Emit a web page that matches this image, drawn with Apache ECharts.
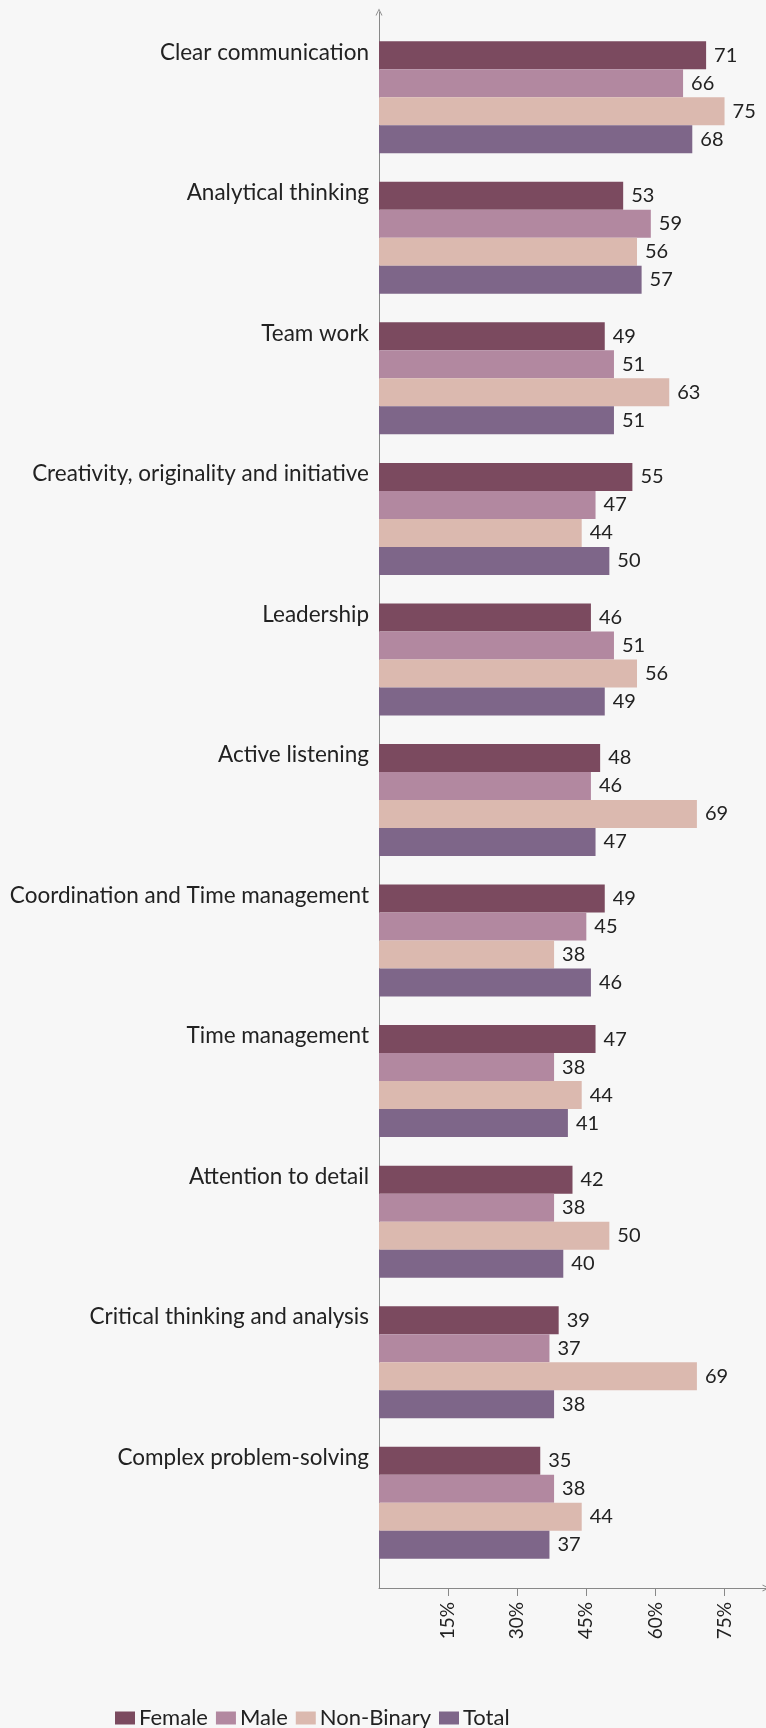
<!DOCTYPE html>
<html lang="en">
<head>
<meta charset="UTF-8">
<title>Skills by gender</title>
<script src="https://cdn.jsdelivr.net/npm/echarts@6/dist/echarts.min.js"></script>
<style>
    html, body { margin: 0; padding: 0; background: #f7f7f7; }
    #chart { width: 766px; height: 1728px; }
</style>
</head>
<body>
<div id="chart"></div>
<script>
    // data (percent)
    var skills = [
        'Clear communication',
        'Analytical thinking',
        'Team work',
        'Creativity, originality and initiative',
        'Leadership',
        'Active listening',
        'Coordination and Time management',
        'Time management',
        'Attention to detail',
        'Critical thinking and analysis',
        'Complex problem-solving'
    ];
    var female    = [71, 53, 49, 55, 46, 48, 49, 47, 42, 39, 35];
    var male      = [66, 59, 51, 47, 51, 46, 45, 38, 38, 37, 38];
    var nonBinary = [75, 56, 63, 44, 56, 69, 38, 44, 50, 69, 44];
    var total     = [68, 57, 51, 50, 49, 47, 46, 41, 40, 38, 37];

    var seriesNames = ['Female', 'Male', 'Non-Binary', 'Total'];
    var seriesData = [female, male, nonBinary, total];
    var colors = ['#7b4a5f', '#b288a0', '#dbb9af', '#7e6689'];
    var xTicks = [15, 30, 45, 60, 75];
    var xMax = 84;

    var font = 'Lato, "Noto Sans", sans-serif';
    var textColor = '#222';
    var axisColor = '#888';
    // thin open arrow head for the axis ends
    var chevron = 'path://M0,10 L5,0 L10,10 L8.6,10 L5,2.6 L1.4,10 Z';

    var chart = echarts.init(document.getElementById('chart'));

    var series = seriesNames.map(function (name, i) {
        return {
            name: name,
            type: 'bar',
            xAxisIndex: 0,
            yAxisIndex: 0,
            data: seriesData[i],
            itemStyle: { color: colors[i] },
            barGap: '0%',
            barCategoryGap: '20.3%',
            label: {
                show: true,
                position: 'right',
                distance: 8,
                color: textColor,
                fontFamily: font,
                fontSize: 20
            }
        };
    });

    var option = {
        backgroundColor: '#f7f7f7',
        animation: false,
        textStyle: { fontFamily: font },
        legend: {
            data: seriesNames,
            left: 110,
            top: 1702,
            icon: 'rect',
            itemWidth: 20,
            itemHeight: 13,
            itemGap: 8,
            textStyle: { color: textColor, fontSize: 22, fontFamily: font, padding: [0, 0, 0, -1] }
        },
        // grid 0 holds the bars, grid 1 only draws the two arrowed axis lines
        grid: [
            { left: 379, right: 0, top: 27, height: 1546, outerBoundsMode: 'none' },
            { left: 379, right: 0, top: 12, bottom: 140, outerBoundsMode: 'none' }
        ],
        xAxis: [
            {
                type: 'value', gridIndex: 0, min: 0, max: xMax,
                show: false
            },
            {
                type: 'value', gridIndex: 1, min: 0, max: xMax, interval: 15,
                axisLine: {
                    show: true,
                    lineStyle: { color: axisColor, width: 1 },
                    symbol: ['none', chevron],
                    symbolSize: [8, 7]
                },
                axisTick: { show: true, length: 8, customValues: xTicks, lineStyle: { color: axisColor } },
                axisLabel: {
                    customValues: xTicks,
                    formatter: '{value}%',
                    rotate: 90,
                    margin: 14,
                    color: textColor,
                    fontSize: 19,
                    fontFamily: font
                },
                splitLine: { show: false }
            }
        ],
        yAxis: [
            {
                type: 'category', gridIndex: 0, data: skills, inverse: true,
                axisLine: { show: false },
                axisTick: { show: false },
                axisLabel: {
                    margin: 10,
                    color: textColor,
                    fontSize: 22.5,
                    fontFamily: font,
                    verticalAlign: 'bottom',
                    lineHeight: 90
                }
            },
            {
                type: 'value', gridIndex: 1, min: 0, max: 1,
                axisLine: {
                    show: true,
                    lineStyle: { color: axisColor, width: 1 },
                    symbol: ['none', chevron],
                    symbolSize: [8, 7]
                },
                axisTick: { show: false },
                axisLabel: { show: false },
                splitLine: { show: false }
            }
        ],
        series: series
    };

    chart.setOption(option);
</script>
</body>
</html>
